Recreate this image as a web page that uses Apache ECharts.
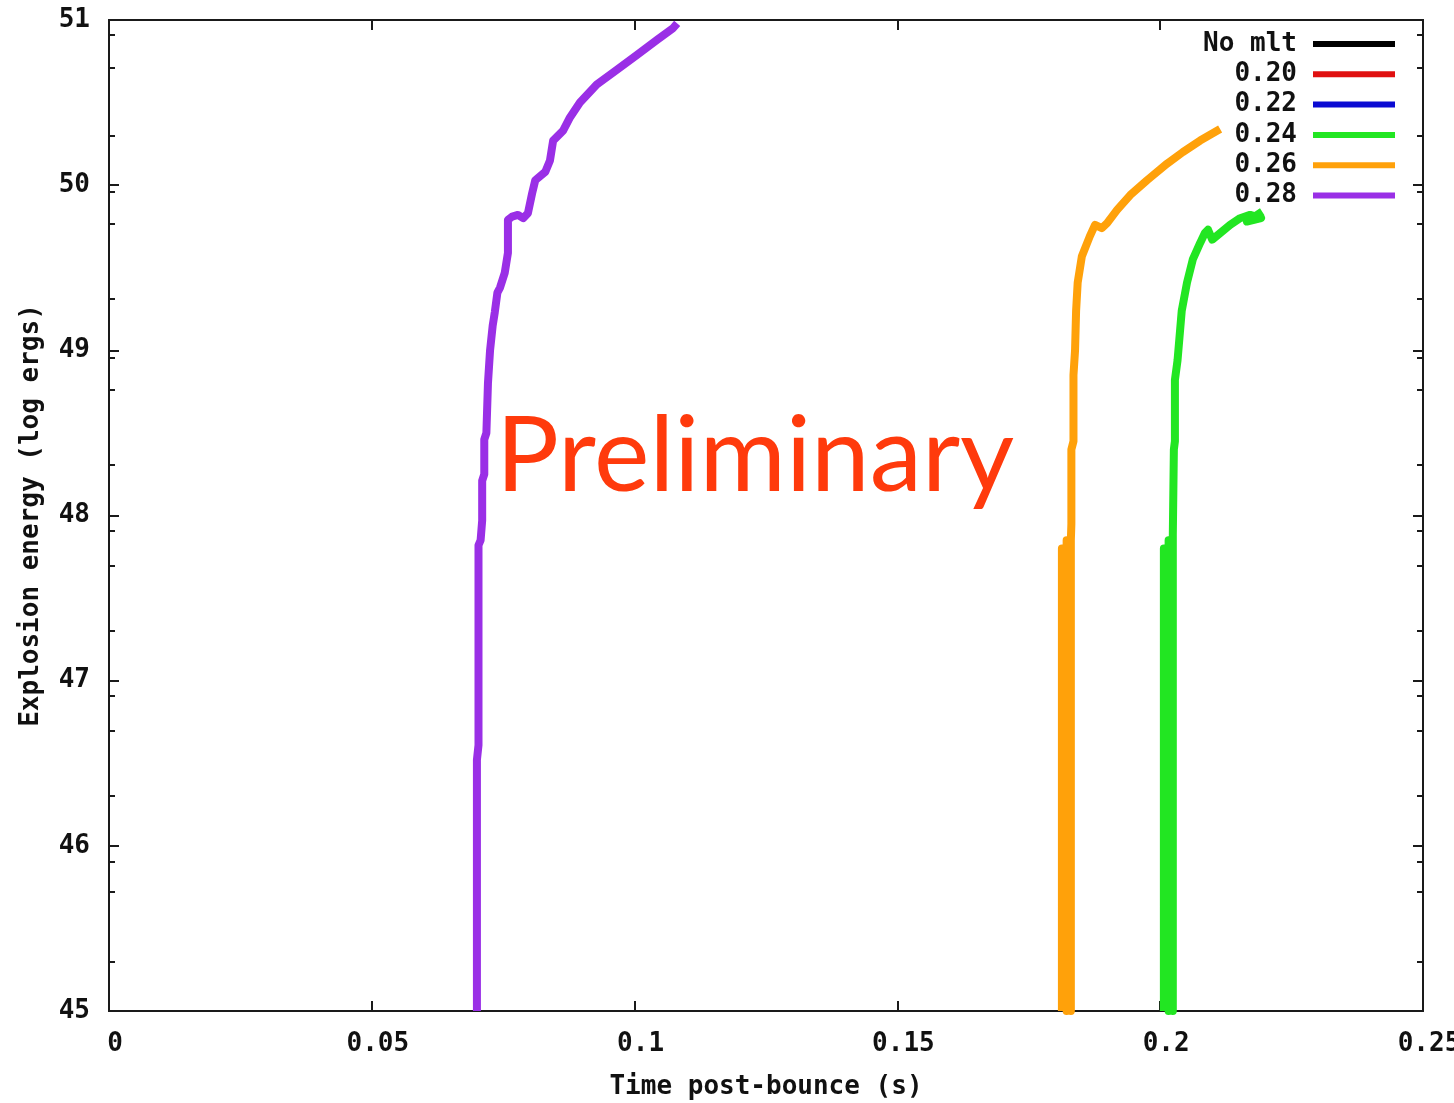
<!DOCTYPE html>
<html>
<head>
<meta charset="utf-8">
<title>Explosion energy vs time post-bounce</title>
<script src="https://cdn.jsdelivr.net/npm/echarts@6/dist/echarts.min.js"></script>
<style>
  html, body { margin: 0; padding: 0; background: #ffffff; }
  #chart { width: 1454px; height: 1103px; }
</style>
</head>
<body>
<div id="chart"></div>
<script>
// Series names (neutrino luminosity multiplier runs)
const seriesNames = ['No mlt', '0.20', '0.22', '0.24', '0.26', '0.28'];

// [time post-bounce (s), log10 explosion energy (ergs)]
const noMlt = [];
const mlt020 = [];
const mlt022 = [];
const mlt024 = [
  [0.2007, 45.00], [0.2007, 47.80], [0.2016, 45.00], [0.2016, 47.85],
  [0.2024, 45.00], [0.2024, 47.88], [0.2026, 48.40], [0.2028, 48.45],
  [0.2028, 48.82], [0.2033, 48.94], [0.2041, 49.24], [0.2051, 49.41],
  [0.2062, 49.55], [0.2076, 49.65], [0.2085, 49.71], [0.2091, 49.73],
  [0.2099, 49.67], [0.2114, 49.71], [0.2133, 49.76], [0.2152, 49.80],
  [0.2171, 49.82], [0.2192, 49.80], [0.2165, 49.78], [0.2194, 49.84]
];
const mlt026 = [
  [0.1813, 45.00], [0.1813, 47.80], [0.1822, 45.00], [0.1822, 47.85],
  [0.1830, 45.00], [0.1830, 47.85], [0.1831, 47.95], [0.1831, 48.40],
  [0.1835, 48.45], [0.1835, 48.85], [0.1838, 49.00], [0.1840, 49.24],
  [0.1843, 49.41], [0.1851, 49.57], [0.1866, 49.69], [0.1876, 49.76],
  [0.1889, 49.74], [0.1899, 49.77], [0.1918, 49.85], [0.1943, 49.94],
  [0.1975, 50.03], [0.2013, 50.13], [0.2043, 50.20], [0.2076, 50.27],
  [0.2114, 50.34]
];
const mlt028 = [
  [0.0700, 45.00], [0.0700, 46.52], [0.0703, 46.61], [0.0703, 47.82],
  [0.0707, 47.85], [0.0710, 47.97], [0.0710, 48.21], [0.0714, 48.25],
  [0.0714, 48.46], [0.0718, 48.50], [0.0721, 48.80], [0.0725, 49.00],
  [0.0730, 49.15], [0.0734, 49.23], [0.0739, 49.35], [0.0744, 49.38],
  [0.0753, 49.47], [0.0759, 49.59], [0.0759, 49.79], [0.0767, 49.81],
  [0.0778, 49.82], [0.0788, 49.80], [0.0797, 49.83], [0.0805, 49.95],
  [0.0811, 50.03], [0.0830, 50.08], [0.0839, 50.15], [0.0845, 50.27],
  [0.0864, 50.33], [0.0877, 50.41], [0.0896, 50.50], [0.0928, 50.61],
  [0.0967, 50.70], [0.1005, 50.79], [0.1043, 50.88], [0.1073, 50.95],
  [0.1081, 50.98]
];
const seriesData = [noMlt, mlt020, mlt022, mlt024, mlt026, mlt028];

// Axis ranges and tick positions
const xRange = [0, 0.25];
const xStep = 0.05;
const yRange = [45, 51];
const yStep = 1;
const yMinorTicks = [
  45.297, 45.720, 45.902,
  46.302, 46.695, 46.907,
  47.301, 47.694, 47.906,
  48.306, 48.760, 48.953,
  49.311, 49.765, 49.958,
  50.298, 50.709, 50.909
];

const lineColors = ['#000000', '#e01010', '#0a0ad2', '#22e622', '#ffa10a', '#9a2fe6'];
const monoFont = '"DejaVu Sans Mono", "Liberation Mono", monospace';
const frameColor = '#1a1a1a';
const labelStyle = { fontFamily: monoFont, fontWeight: 'bold', fontSize: 26, color: '#111111' };

const chart = echarts.init(document.getElementById('chart'), null, { renderer: 'canvas' });

function frameLine() {
  return { show: true, onZero: false, lineStyle: { color: frameColor, width: 2 } };
}
function tickStyle(len, values) {
  const t = { show: true, inside: true, length: len, lineStyle: { color: frameColor, width: 2 } };
  if (values) t.customValues = values;
  return t;
}

const option = {
  animation: false,
  backgroundColor: '#ffffff',
  grid: { left: 109, right: 31, top: 20, bottom: 92, containLabel: false, outerBoundsMode: 'none' },
  legend: {
    orient: 'vertical',
    right: 59,
    top: 31,
    padding: 0,
    align: 'right',
    icon: 'rect',
    itemWidth: 82,
    itemHeight: 6,
    itemGap: 4.3,
    selectedMode: false,
    data: seriesNames,
    textStyle: Object.assign({}, labelStyle, { lineHeight: 26, padding: [0, 11, 0, 0] })
  },
  xAxis: [
    {
      type: 'value', position: 'bottom',
      min: xRange[0], max: xRange[1], interval: xStep,
      axisLine: frameLine(),
      axisTick: tickStyle(10),
      splitLine: { show: false },
      axisLabel: Object.assign({ margin: 20, padding: [0, 0, 0, 12] }, labelStyle),
      name: 'Time post-bounce (s)',
      nameLocation: 'middle',
      nameGap: 63,
      nameTextStyle: labelStyle
    },
    {
      type: 'value', position: 'top',
      min: xRange[0], max: xRange[1], interval: xStep,
      axisLine: frameLine(),
      axisTick: tickStyle(10),
      splitLine: { show: false },
      axisLabel: { show: false }
    }
  ],
  yAxis: [
    {
      type: 'value', position: 'left', offset: 0,
      min: yRange[0], max: yRange[1], interval: yStep,
      axisLine: frameLine(),
      axisTick: tickStyle(10),
      splitLine: { show: false },
      axisLabel: Object.assign({ margin: 19 }, labelStyle),
      name: 'Explosion energy (log ergs)',
      nameLocation: 'middle',
      nameGap: 65,
      nameTextStyle: labelStyle
    },
    {
      type: 'value', position: 'left', offset: 0,
      min: yRange[0], max: yRange[1],
      axisLine: frameLine(),
      axisTick: tickStyle(6, yMinorTicks),
      splitLine: { show: false },
      axisLabel: { show: false }
    },
    {
      type: 'value', position: 'right', offset: 0,
      min: yRange[0], max: yRange[1], interval: yStep,
      axisLine: frameLine(),
      axisTick: tickStyle(10),
      splitLine: { show: false },
      axisLabel: { show: false }
    },
    {
      type: 'value', position: 'right', offset: 0,
      min: yRange[0], max: yRange[1],
      axisLine: frameLine(),
      axisTick: tickStyle(6, yMinorTicks),
      splitLine: { show: false },
      axisLabel: { show: false }
    }
  ],
  graphic: [
    {
      type: 'text',
      z: 100,
      style: {
        text: 'Preliminary',
        x: 496,
        y: 457,
        verticalAlign: 'middle',
        align: 'left',
        font: '400 105px Lato, "Open Sans", sans-serif',
        fill: '#ff3a0c'
      }
    }
  ],
  series: seriesNames.map((name, i) => ({
    name: name,
    type: 'line',
    xAxisIndex: 0,
    yAxisIndex: 0,
    data: seriesData[i],
    showSymbol: false,
    symbol: 'none',
    clip: true,
    color: lineColors[i],
    lineStyle: { color: lineColors[i], width: 8, cap: 'butt', join: 'round' },
    emphasis: { disabled: true }
  }))
};

chart.setOption(option);
</script>
</body>
</html>
